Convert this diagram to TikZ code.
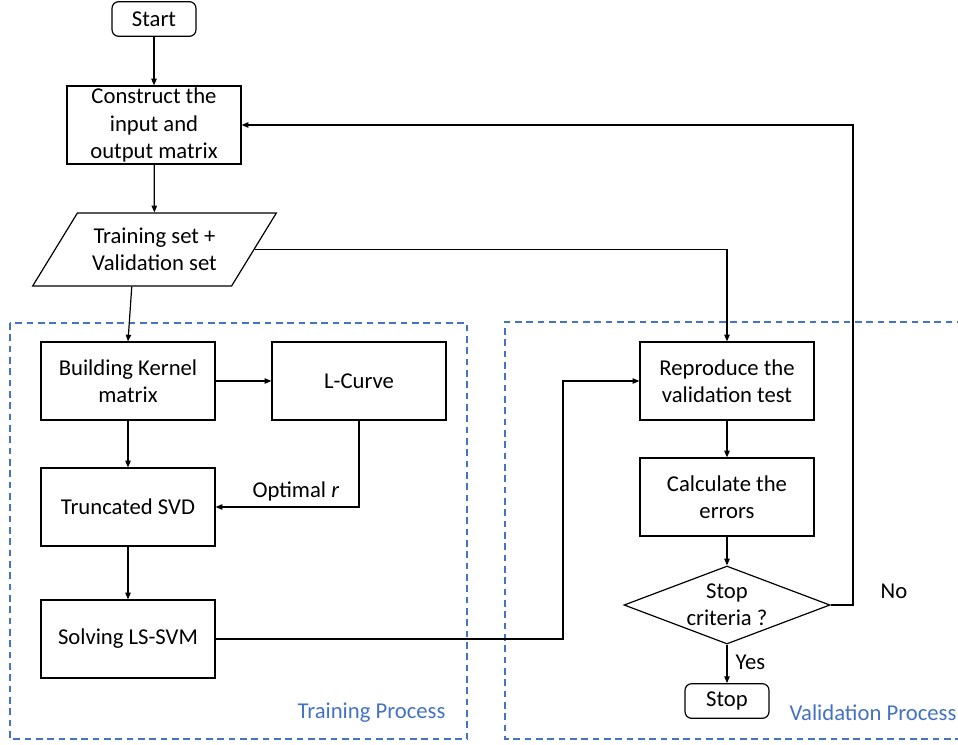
\documentclass[tikz,border=0pt]{standalone}
\usepackage{fontspec}
\setmainfont{Carlito}
\usetikzlibrary{shapes.geometric,arrows.meta}

\definecolor{procblue}{RGB}{68,114,196}
\tikzset{every picture/.style={line width=0.9pt}}
\tikzset{
  procbox/.style={draw, rectangle, minimum width=130.5pt, minimum height=58.5pt, inner sep=0pt, align=center},
  termbox/.style={draw, rectangle, rounded corners=5pt, minimum width=63pt, minimum height=26pt, inner sep=0pt},
  databox/.style={draw, trapezium, trapezium left angle=50, trapezium right angle=130, trapezium stretches=true, minimum width=183pt, minimum height=54.75pt, inner sep=0pt, align=center},
  decision/.style={draw, diamond, minimum width=154.5pt, minimum height=58.5pt, inner sep=0pt},
  group/.style={draw=procblue, dash pattern=on 5pt off 3.5pt, line width=0.8pt},
  grouplabel/.style={text=procblue, inner sep=0pt},
  flow/.style={-{Triangle[length=5pt,width=4pt]}}
}

\begin{document}
\fontsize{17pt}{20.5pt}\selectfont
\begin{tikzpicture}[x=0.75pt,y=0.75pt,yscale=-1,xscale=1]
\useasboundingbox (0,0) rectangle (958,744);

%Shape: Dashed groups
\draw [group] (10,323) rectangle (467,739);
\draw [group] (975,322) -- (505,322) -- (505,739) -- (975,739);

% Text Node
\node [termbox] (start) at (154,19) {Start};
\node [procbox] (construct) at (154,125) {Construct the\\input and\\output matrix};
\node [databox] (data) at (154.5,249.5) {Training set +\\Validation set};

% Training Process
\node [procbox] (kernel) at (128,381) {Building Kernel\\matrix};
\node [procbox] (lcurve) at (359,381) {L-Curve};
\node [procbox] (svd) at (128,507) {Truncated SVD};
\node [procbox] (solve) at (128,639) {Solving LS-SVM};
\node [grouplabel, anchor=east] (trainlabel) at (446,713) {Training Process};

% Validation Process
\node [procbox] (reproduce) at (727,381) {Reproduce the\\validation test};
\node [procbox] (calc) at (727,497) {Calculate the\\errors};
\node [decision] (decide) at (727,605) {};
\node [align=center, inner sep=0pt] (decidetext) at (decide.center) {Stop\\criteria ?};
\node [termbox] (stop) at (727,701) {Stop};
\node [grouplabel, anchor=east] (validlabel) at (957,713) {Validation Process};

\coordinate (jog) at (563,639);
\coordinate (back) at (853,605);

%Straight Lines
\draw [flow] (start) -- (construct);
\draw [flow] (construct) -- (data);
\draw [flow] (data.bottom side) -- (kernel.north);
\draw [flow] (data.east) -| (reproduce.north);
\draw [flow] (kernel) -- (lcurve);
\draw [flow] (kernel) -- (svd);
\draw [flow] (lcurve.south) |- node [pos=0.72, above=4pt, inner sep=0pt] (optlabel) {Optimal \textit{r}} (svd.east);
\draw [flow] (svd) -- (solve);
\draw [flow] (solve.east) -- (jog) |- (reproduce.west);
\draw [flow] (reproduce) -- (calc);
\draw [flow] (calc) -- (decide.north);
\draw [flow] (decide.south) -- node [right=6pt, pos=0.45, inner sep=0pt] (yes) {Yes} (stop);
\draw [flow] (decide.east) -- (back) |- (construct.east);
\node [inner sep=0pt] (no) at (894,591) {No};

\end{tikzpicture}
\end{document}
